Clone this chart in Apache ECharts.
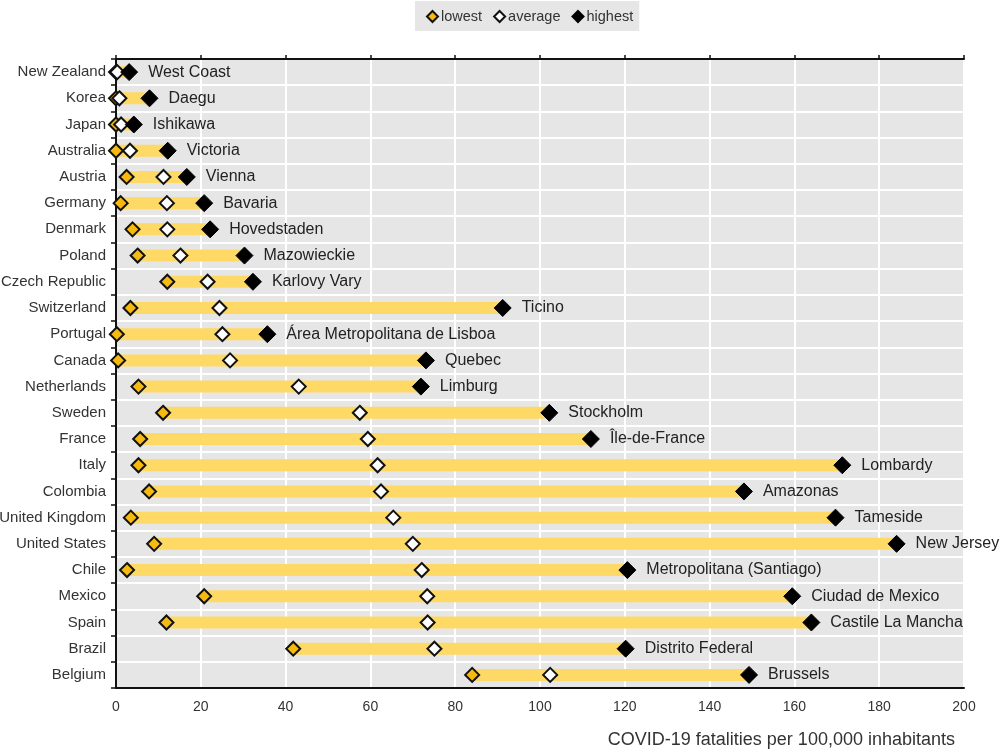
<!DOCTYPE html>
<html>
<head>
<meta charset="utf-8">
<script src="https://cdn.jsdelivr.net/npm/echarts@6/dist/echarts.min.js"></script>
<style>html,body{margin:0;padding:0;background:#fff}#c{width:1000px;height:751px}</style>
</head>
<body>
<div id="c"></div>
<script>
const countries = ["New Zealand","Korea","Japan","Australia","Austria","Germany","Denmark","Poland","Czech Republic","Switzerland","Portugal","Canada","Netherlands","Sweden","France","Italy","Colombia","United Kingdom","United States","Chile","Mexico","Spain","Brazil","Belgium"];
const regions = ["West Coast","Daegu","Ishikawa","Victoria","Vienna","Bavaria","Hovedstaden","Mazowieckie","Karlovy Vary","Ticino","Área Metropolitana de Lisboa","Quebec","Limburg","Stockholm","Île-de-France","Lombardy","Amazonas","Tameside","New Jersey","Metropolitana (Santiago)","Ciudad de Mexico","Castile La Mancha","Distrito Federal","Brussels"];
const lowest  = [0, 0, 0, 0, 2.5, 1.1, 3.9, 5.1, 12.1, 3.4, 0.2, 0.5, 5.3, 11.1, 5.7, 5.3, 7.8, 3.5, 9.0, 2.6, 20.8, 11.9, 41.8, 84.0];
const average = [0.3, 0.8, 1.2, 3.3, 11.2, 12.0, 12.1, 15.2, 21.6, 24.4, 25.1, 26.9, 43.1, 57.5, 59.4, 61.7, 62.5, 65.4, 70.0, 72.1, 73.4, 73.5, 75.1, 102.4];
const highest = [3.1, 7.9, 4.2, 12.2, 16.7, 20.8, 22.2, 30.3, 32.3, 91.2, 35.7, 73.1, 71.9, 102.2, 112.0, 171.3, 148.1, 169.7, 184.1, 120.6, 159.5, 164.0, 120.2, 149.3];
const xTicks = [0, 20, 40, 60, 80, 100, 120, 140, 160, 180, 200];
const xTitle = "COVID-19 fatalities per 100,000 inhabitants";

const FONT = "Liberation Sans, Arial, sans-serif";
const chart = echarts.init(document.getElementById('c'), null, {renderer: 'canvas'});

const rangeData = countries.map((c, i) => [lowest[i], highest[i], i]);

chart.setOption({
  animation: false,
  textStyle: {fontFamily: FONT},
  legend: {
    top: 1,
    left: 415,
    backgroundColor: '#e6e6e6',
    padding: [8, 6, 7, 11],
    itemGap: 11,
    itemWidth: 11,
    itemHeight: 11,
    textStyle: {fontSize: 14.5, color: '#333', fontFamily: FONT, padding: [0, 0, 0, -2]},
    data: ['lowest', 'average', 'highest']
  },
  grid: {left: 116, right: 36, top: 59, bottom: 63, outerBoundsMode: 'none', containLabel: false,
    show: true, backgroundColor: '#e6e6e6', borderColor: '#111', borderWidth: 1},
  xAxis: [{
    type: 'value', min: 0, max: 200, interval: 20, position: 'bottom',
    axisLine: {show: true, lineStyle: {color: '#111', width: 2}},
    axisTick: {show: false},
    axisLabel: {fontSize: 14, color: '#333', margin: 12, fontFamily: FONT,
      formatter: v => xTicks.indexOf(v) >= 0 ? String(v) : ''},
    splitLine: {show: true, lineStyle: {color: '#ffffff', width: 2}}
  }, {
    type: 'value', min: 0, max: 200, interval: 20, position: 'top',
    axisLine: {show: true, lineStyle: {color: '#111', width: 2}},
    axisTick: {show: true, length: 4, lineStyle: {color: '#111', width: 1.5}},
    axisLabel: {show: false},
    splitLine: {show: false}
  }],
  yAxis: {
    type: 'category', data: countries, inverse: true,
    axisLine: {show: true, lineStyle: {color: '#111', width: 2}},
    axisTick: {show: true, length: 5, lineStyle: {color: '#111', width: 1.5}},
    axisLabel: {fontSize: 15, color: '#333', margin: 10, fontFamily: FONT},
    splitLine: {show: true, lineStyle: {color: '#ffffff', width: 2}}
  },
  graphic: [{
    type: 'text', right: 45, top: 731,
    style: {text: xTitle, font: '18px ' + FONT, fill: '#333'}
  }],
  series: [{
    type: 'custom',
    name: 'range',
    data: rangeData,
    encode: {x: [0, 1], y: 2},
    renderItem: function (params, api) {
      const a = api.coord([api.value(0), api.value(2)]);
      const b = api.coord([api.value(1), api.value(2)]);
      const h = 12;
      return {type: 'rect', shape: {x: a[0], y: a[1] - h / 2, width: b[0] - a[0], height: h},
        style: {fill: '#fed965'}};
    },
    z: 1
  }, {
    type: 'scatter', name: 'lowest', symbol: 'diamond', symbolSize: 14,
    data: lowest.map((v, i) => [v, countries[i]]),
    itemStyle: {color: '#f5b90f', borderColor: '#111', borderWidth: 2, opacity: 1},
    clip: false, z: 3
  }, {
    type: 'scatter', name: 'average', symbol: 'diamond', symbolSize: 14,
    data: average.map((v, i) => [v, countries[i]]),
    itemStyle: {color: '#ffffff', borderColor: '#111', borderWidth: 2, opacity: 1},
    clip: false, z: 4
  }, {
    type: 'scatter', name: 'highest', symbol: 'diamond', symbolSize: 17,
    data: highest.map((v, i) => [v, countries[i]]),
    itemStyle: {color: '#000000', borderColor: '#000', borderWidth: 1, opacity: 1},
    label: {show: true, position: 'right', distance: 10, fontSize: 16, color: '#222', fontFamily: FONT,
      formatter: p => regions[p.dataIndex]},
    clip: false, z: 5
  }]
});
</script>
</body>
</html>
